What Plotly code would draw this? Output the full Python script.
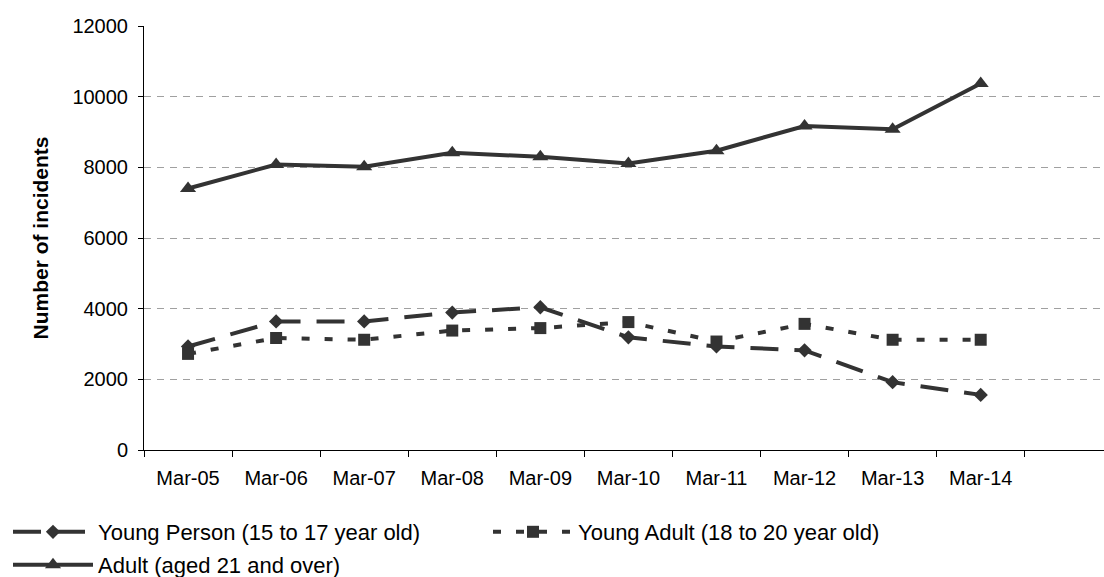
import plotly.graph_objects as go

# Financial-year periods and incident counts per age group
periods = ["Mar-05", "Mar-06", "Mar-07", "Mar-08", "Mar-09",
           "Mar-10", "Mar-11", "Mar-12", "Mar-13", "Mar-14"]
young_person = [2930, 3640, 3640, 3890, 4040, 3190, 2930, 2820, 1920, 1560]
young_adult = [2720, 3170, 3120, 3380, 3450, 3620, 3070, 3570, 3120, 3120]
adult = [7400, 8080, 8020, 8410, 8300, 8110, 8470, 9170, 9080, 10370]
y_ticks = [0, 2000, 4000, 6000, 8000, 10000, 12000]
y_tick_text = [str(v) for v in y_ticks]

INK = "#333333"
FONT = "Liberation Sans, Arial, sans-serif"
W, H = 1104, 577

fig = go.Figure()

fig.add_trace(go.Scatter(
    x=periods, y=young_person, mode="lines+markers",
    name="Young Person (15 to 17 year old)",
    line=dict(color=INK, width=4, dash="28px,16px"),
    marker=dict(symbol="diamond", size=11, color=INK),
    legend="legend",
))
fig.add_trace(go.Scatter(
    x=periods, y=young_adult, mode="lines+markers",
    name="Young Adult (18 to 20 year old)",
    line=dict(color=INK, width=4, dash="8px,15px"),
    marker=dict(symbol="square", size=12, color=INK),
    legend="legend2",
))
fig.add_trace(go.Scatter(
    x=periods, y=adult, mode="lines+markers",
    name="Adult (aged 21 and over)",
    line=dict(color=INK, width=4),
    marker=dict(symbol="triangle-up", size=14, color=INK),
    legend="legend3",
))


def legend_box(left_px, mid_px):
    return dict(
        orientation="h", xref="container", yref="container",
        x=left_px / W, y=1 - mid_px / H, xanchor="left", yanchor="middle",
        font=dict(size=22), itemwidth=80,
        bgcolor="rgba(0,0,0,0)",
    )


fig.update_layout(
    width=W, height=H,
    margin=dict(l=144, r=0, t=26, b=127),
    paper_bgcolor="white", plot_bgcolor="white",
    font=dict(family=FONT, color="black", size=20),
    showlegend=True,
    legend=legend_box(8, 532),
    legend2=legend_box(488, 532),
    legend3=legend_box(8, 565),
)

fig.update_xaxes(
    type="category", categoryorder="array", categoryarray=periods,
    range=[-0.5, 10.4],
    showline=True, linecolor="black", linewidth=1,
    ticks="outside", tickson="boundaries", ticklen=6,
    tickcolor="black", tickwidth=1,
    showgrid=False, zeroline=False,
    tickfont=dict(size=20), ticklabelstandoff=10,
)
fig.update_yaxes(
    range=[0, 12000], tickvals=y_ticks, ticktext=y_tick_text,
    showline=True, linecolor="black", linewidth=1,
    ticks="outside", ticklen=5, tickcolor="black", tickwidth=1,
    showgrid=True, gridcolor="#a0a0a0", gridwidth=1, griddash="7px,6px",
    zeroline=False,
    tickfont=dict(size=20), ticklabelstandoff=6,
    title=dict(text="<b>Number of incidents</b>", font=dict(size=21), standoff=18),
)

fig.write_html("out.html")
